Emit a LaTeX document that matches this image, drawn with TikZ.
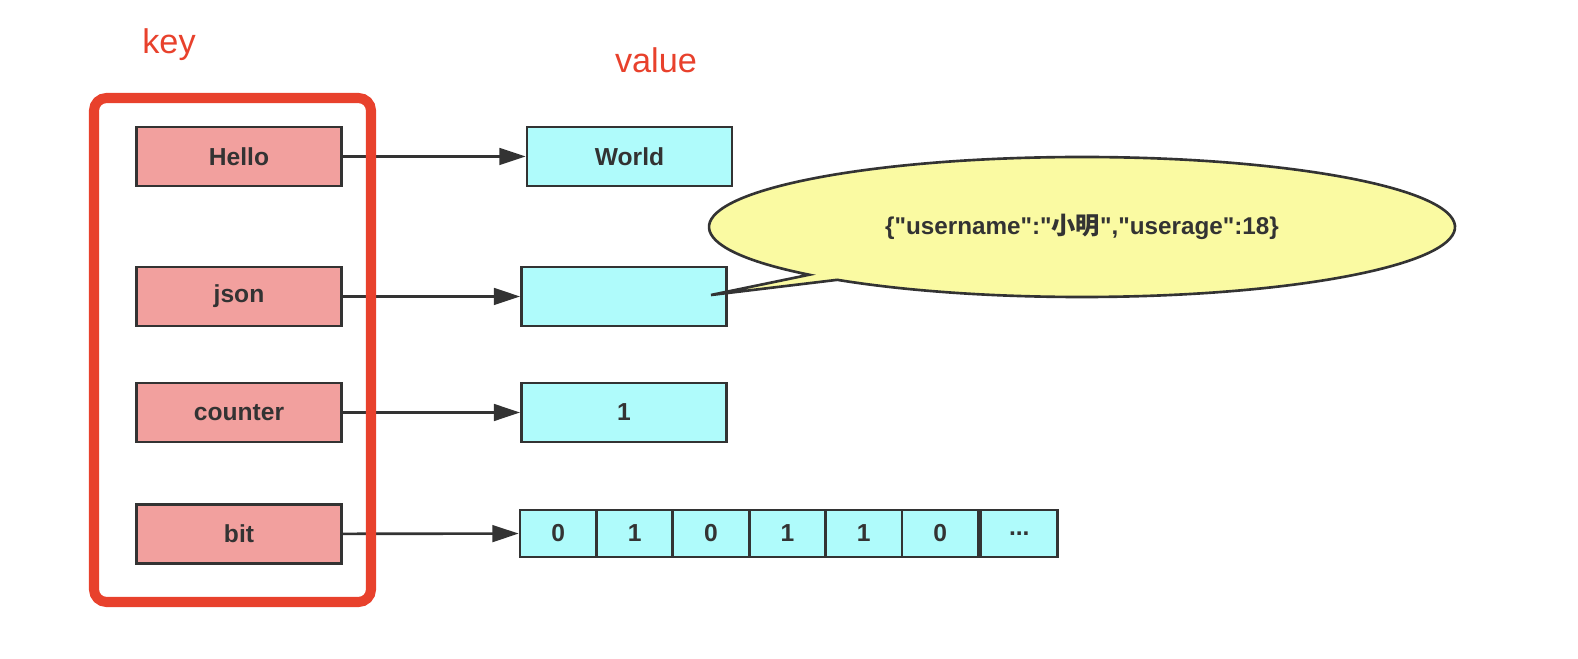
\documentclass[tikz,border=0pt]{standalone}
\usepackage{fontspec}
\setmainfont{Liberation Sans}
\newfontfamily\jsonfont{Liberation Sans}
\newfontfamily\cjk{Noto Sans CJK SC}
\usetikzlibrary{arrows.meta,positioning,calc}
\definecolor{keyred}{HTML}{F2A09E}
\definecolor{valcyan}{HTML}{AFFBFB}
\definecolor{bubble}{HTML}{FAFAA2}
\definecolor{frame}{HTML}{E8412C}
\definecolor{ink}{HTML}{333333}

\begin{document}
\begin{tikzpicture}[
    keybox/.style={rectangle,draw=ink,line width=1.5pt,fill=keyred,minimum width=4.1cm,minimum height=1.18cm,font=\fontsize{14}{16}\selectfont\bfseries,text=ink},
    valbox/.style={keybox,fill=valcyan},
    bitcell/.style={valbox,minimum width=1.528cm,minimum height=0.94cm},
    title/.style={font=\fontsize{19.5}{22}\selectfont,text=frame},
    >={Triangle[length=15pt,width=9.5pt]}]
    \useasboundingbox (0,0) rectangle (31.56,13.16);

    \node[title] (keyt) at (3.38,12.26) {key};
    \node[title] (valt) at (13.12,11.96) {value};

    % keys
    \node[keybox] (hello) at (4.78,10.03) {Hello};
    \node[keybox] (json) at (4.78,7.23) {json};
    \node[keybox] (counter) at (4.78,4.91) {counter};
    \node[keybox] (bit) at (4.78,2.48) {bit};

    % values
    \node[valbox] (world) at (12.59,10.03) {World};
    \node[valbox] (jsonv) at (12.48,7.23) {};
    \node[valbox] (one) at (12.48,4.91) {1};
    \foreach \v [count=\i] in {0,1,0,1,1,0}
      \node[bitcell] (b\i) at ({11.164+(\i-1)*1.528},2.49) {\v};
    \node[bitcell,right=0pt of b6] (b7) {...};

    \draw[->,ink,line width=1.5pt] (hello) -- (world);
    \draw[->,ink,line width=1.5pt] (json) -- (jsonv);
    \draw[->,ink,line width=1.5pt] (counter) -- (one);
    \draw[->,ink,line width=1.5pt] (bit) -- (b1);
    \draw[frame,line width=5.7pt,rounded corners=0.25cm] (1.88,11.2) rectangle (7.42,1.12);

    % callout
    \coordinate (tip) at ([xshift=1.74cm,yshift=0.03cm]jsonv.center);
    \coordinate (bc) at (21.64,8.62);
    \draw[ink,line width=1.5pt,fill=bubble] ($(bc)+(229:7.46cm and 1.40cm)$)
      arc[start angle=229,end angle=583,x radius=7.46cm,y radius=1.40cm] -- (tip) -- cycle;
    \node[font=\fontsize{13.8}{16}\jsonfont\bfseries,text=ink] (jtext) at (bc)
      {\{"username":"{\cjk\bfseries 小明}","userage":18\}};
\end{tikzpicture}
\end{document}
